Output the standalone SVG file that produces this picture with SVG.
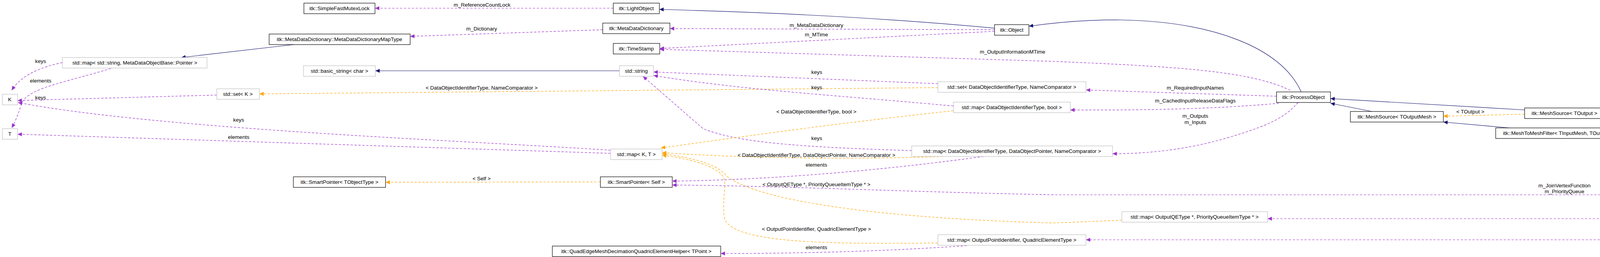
<svg xmlns="http://www.w3.org/2000/svg" width="7019" height="657" viewBox="0 0 7019 657">
<style>
text{font-family:"Liberation Sans",Arial,sans-serif;font-size:13.5px;fill:#000}
.n text{text-anchor:middle}
.n rect{fill:#fff;stroke:#000;stroke-width:1.2}
.n.g rect{stroke:#bfbfbf}
.n.main rect{fill:#bfbfbf}
.e path{fill:none;stroke-width:1.2}
.inh{stroke:#191970}
.use{stroke:#9a32cd;stroke-dasharray:6,4}
.tpl{stroke:#ffa500;stroke-dasharray:6,4}
.lbl{text-anchor:middle}
</style>
<defs>
<marker id="an" markerUnits="userSpaceOnUse" markerWidth="12" markerHeight="10" refX="11" refY="5" orient="auto"><path d="M0,0 L11,5 L0,10 z" fill="#191970"/></marker>
<marker id="ap" markerUnits="userSpaceOnUse" markerWidth="12" markerHeight="10" refX="11" refY="5" orient="auto"><path d="M0,0 L11,5 L0,10 z" fill="#9a32cd"/></marker>
<marker id="ao" markerUnits="userSpaceOnUse" markerWidth="12" markerHeight="10" refX="11" refY="5" orient="auto"><path d="M0,0 L11,5 L0,10 z" fill="#ffa500"/></marker>
</defs>
<rect width="7019" height="657" fill="#fff"/>
<g id="connectors" class="e">
<path class="use" marker-end="url(#ap)" d="M1570,21 L960,21"/>
<path class="inh" marker-end="url(#an)" d="M2546,72 C2200,40 1900,30 1688,24"/>
<path class="use" marker-end="url(#ap)" d="M1543,76 L1050,93"/>
<path class="inh" marker-end="url(#an)" d="M752,114 L464,147"/>
<path class="use" marker-end="url(#ap)" d="M160,160 C110,170 55,190 30,231"/>
<path class="use" marker-end="url(#ap)" d="M284,175 C170,210 70,225 55,265 Q45,300 30,327"/>
<path class="use" marker-end="url(#ap)" d="M555,243 L45,257"/>
<path class="use" marker-end="url(#ap)" d="M1563,384 C1200,360 400,330 46,262"/>
<path class="use" marker-end="url(#ap)" d="M1563,392 L45,343"/>
<path class="tpl" marker-end="url(#ao)" d="M2401,224 L664,240"/>
<path class="use" marker-end="url(#ap)" d="M2546,76 L1715,73"/>
<path class="use" marker-end="url(#ap)" d="M2546,80 L1689,124"/>
<path class="use" marker-end="url(#ap)" d="M3303,231 C3200,180 3000,170 2700,157 L1689,126"/>
<path class="inh" marker-end="url(#an)" d="M1586,181 L961,181"/>
<path class="use" marker-end="url(#ap)" d="M2401,214 L1673,184"/>
<path class="use" marker-end="url(#ap)" d="M2441,271 C2100,240 1900,230 1673,193"/>
<path class="use" marker-end="url(#ap)" d="M2334,385 C2000,375 1880,360 1800,329 L1646,195"/>
<path class="tpl" marker-end="url(#ao)" d="M2441,283 C2100,320 1900,350 1692,378"/>
<path class="tpl" marker-end="url(#ao)" d="M2414,400 C2200,408 1900,405 1695,390"/>
<path class="tpl" marker-end="url(#ao)" d="M2872,563 L2700,570 C2300,560 1950,520 1860,450 Q1830,410 1695,393"/>
<path class="tpl" marker-end="url(#ao)" d="M2401,621 C2100,625 1880,620 1855,560 C1845,500 1870,460 1840,440 Q1800,410 1695,397"/>
<path class="use" marker-end="url(#ap)" d="M2518,400 C2300,430 2000,460 1721,463"/>
<path class="use" marker-end="url(#ap)" d="M6077,515 C5800,500 5600,498 5400,498 L2700,498 C2300,490 2000,475 1721,473"/>
<path class="tpl" marker-end="url(#ao)" d="M1537,465 L987,466"/>
<path class="use" marker-end="url(#ap)" d="M2475,628 C2300,640 2100,648 1845,648"/>
<path class="inh" marker-end="url(#an)" d="M3331,235 C3280,120 3100,55 2870,51 C2780,50 2700,58 2634,67"/>
<path class="use" marker-end="url(#ap)" d="M3268,246 L2780,230"/>
<path class="use" marker-end="url(#ap)" d="M3274,264 C3100,280 2900,282 2740,281"/>
<path class="use" marker-end="url(#ap)" d="M3323,262 C3290,300 3250,320 3150,350 C3050,380 2950,393 2848,393"/>
<path class="inh" marker-end="url(#an)" d="M3512,285 L3406,264"/>
<path class="inh" marker-end="url(#an)" d="M3903,281 L3406,252"/>
<path class="tpl" marker-end="url(#ao)" d="M3903,292 L3695,297"/>
<path class="inh" marker-end="url(#an)" d="M3864,327 L3695,312"/>
<path class="inh" marker-end="url(#an)" d="M4463,322 L4108,297"/>
<path class="tpl" marker-end="url(#ao)" d="M4463,333 L4182,338"/>
<path class="inh" marker-end="url(#an)" d="M4409,369 L4182,354"/>
<path class="inh" marker-end="url(#an)" d="M5097,369 L4747,342"/>
<path class="tpl" marker-end="url(#ao)" d="M5029,382 L4847,382"/>
<path class="inh" marker-end="url(#an)" d="M5601,424 L5361,397"/>
<path class="inh" marker-end="url(#an)" d="M6158,516 L5808,451"/>
<path class="inh" marker-end="url(#an)" d="M6633,570 L6364,542"/>
<path class="use" marker-end="url(#ap)" d="M6083,542 C5900,555 5700,559 5400,559 L3245,559"/>
<path class="use" marker-end="url(#ap)" d="M6605,597 C6400,610 6200,613 5900,613 L2780,613"/>
<g class="lbl">
<text x="1234" y="17">m_ReferenceCountLock</text>
<text x="1233" y="78">m_Dictionary</text>
<text x="104" y="161">keys</text>
<text x="104" y="211">elements</text>
<text x="104" y="254">keys</text>
<text x="611" y="311">keys</text>
<text x="611" y="355">elements</text>
<text x="1233" y="229">&lt; DataObjectIdentifierType, NameComparator &gt;</text>
<text x="2090" y="69">m_MetaDataDictionary</text>
<text x="2090" y="93">m_MTime</text>
<text x="2592" y="137">m_OutputInformationMTime</text>
<text x="2091" y="189">keys</text>
<text x="2091" y="228">keys</text>
<text x="2091" y="358">keys</text>
<text x="2090" y="290">&lt; DataObjectIdentifierType, bool &gt;</text>
<text x="2090" y="401">&lt; DataObjectIdentifierType, DataObjectPointer, NameComparator &gt;</text>
<text x="2090" y="426">elements</text>
<text x="2090" y="476">&lt; OutputQEType *, PriorityQueueItemType * &gt;</text>
<text x="2090" y="590">&lt; OutputPointIdentifier, QuadricElementType &gt;</text>
<text x="2090" y="637">elements</text>
<text x="1233" y="461">&lt; Self &gt;</text>
<text x="3060" y="229">m_RequiredInputNames</text>
<text x="3060" y="262">m_CachedInputReleaseDataFlags</text>
<text x="3060" y="301">m_Outputs</text>
<text x="3060" y="317">m_Inputs</text>
<text x="3764" y="290">&lt; TOutput &gt;</text>
<text x="4272" y="331">&lt; TInput, TOutput &gt;</text>
<text x="4939" y="378">&lt; TInput, TOutput &gt;</text>
<text x="4005" y="479">m_JoinVertexFunction</text>
<text x="4005" y="494">m_PriorityQueue</text>
<text x="4275" y="555">m_QueueMapper</text>
<text x="4607" y="609">m_Quadric</text>
</g>
</g>
<g id="n_mutex" class="n"><rect x="778" y="8" width="182" height="27"/><text x="869" y="26">itk::SimpleFastMutexLock</text></g>
<g id="n_mddmap" class="n"><rect x="689" y="87" width="361" height="27"/><text x="869" y="105">itk::MetaDataDictionary::MetaDataDictionaryMapType</text></g>
<g id="n_mapstr" class="n g"><rect x="160" y="147" width="370" height="27"/><text x="345" y="165">std::map&lt; std::string, MetaDataObjectBase::Pointer &gt;</text></g>
<g id="n_basic" class="n g"><rect x="777" y="168" width="184" height="27"/><text x="869" y="186">std::basic_string&lt; char &gt;</text></g>
<g id="n_setk" class="n g"><rect x="555" y="227" width="109" height="27"/><text x="609" y="245">std::set&lt; K &gt;</text></g>
<g id="n_k" class="n g"><rect x="6" y="241" width="39" height="27"/><text x="25" y="259">K</text></g>
<g id="n_t" class="n g"><rect x="6" y="329" width="39" height="27"/><text x="25" y="347">T</text></g>
<g id="n_sptobj" class="n"><rect x="751" y="452" width="236" height="27"/><text x="869" y="470">itk::SmartPointer&lt; TObjectType &gt;</text></g>
<g id="n_light" class="n"><rect x="1570" y="8" width="118" height="27"/><text x="1629" y="26">itk::LightObject</text></g>
<g id="n_mdd" class="n"><rect x="1543" y="59" width="172" height="27"/><text x="1629" y="77">itk::MetaDataDictionary</text></g>
<g id="n_ts" class="n"><rect x="1570" y="111" width="119" height="27"/><text x="1629" y="129">itk::TimeStamp</text></g>
<g id="n_str" class="n g"><rect x="1586" y="168" width="87" height="27"/><text x="1629" y="186">std::string</text></g>
<g id="n_mapkt" class="n g"><rect x="1563" y="381" width="132" height="27"/><text x="1629" y="399">std::map&lt; K, T &gt;</text></g>
<g id="n_sptself" class="n"><rect x="1537" y="452" width="184" height="27"/><text x="1629" y="470">itk::SmartPointer&lt; Self &gt;</text></g>
<g id="n_helper" class="n"><rect x="1414" y="629" width="431" height="27"/><text x="1629" y="647">itk::QuadEdgeMeshDecimationQuadricElementHelper&lt; TPoint &gt;</text></g>
<g id="n_object" class="n"><rect x="2546" y="63" width="88" height="27"/><text x="2590" y="81">itk::Object</text></g>
<g id="n_setdoi" class="n g"><rect x="2401" y="209" width="379" height="27"/><text x="2590" y="227">std::set&lt; DataObjectIdentifierType, NameComparator &gt;</text></g>
<g id="n_mapbool" class="n g"><rect x="2441" y="261" width="299" height="27"/><text x="2590" y="279">std::map&lt; DataObjectIdentifierType, bool &gt;</text></g>
<g id="n_mapdop" class="n g"><rect x="2334" y="373" width="514" height="27"/><text x="2591" y="391">std::map&lt; DataObjectIdentifierType, DataObjectPointer, NameComparator &gt;</text></g>
<g id="n_mapopi" class="n g"><rect x="2401" y="600" width="379" height="27"/><text x="2590" y="618">std::map&lt; OutputPointIdentifier, QuadricElementType &gt;</text></g>
<g id="n_mapqe" class="n g"><rect x="2872" y="541" width="373" height="27"/><text x="3058" y="559">std::map&lt; OutputQEType *, PriorityQueueItemType * &gt;</text></g>
<g id="n_po" class="n"><rect x="3268" y="235" width="138" height="27"/><text x="3337" y="253">itk::ProcessObject</text></g>
<g id="n_msom" class="n"><rect x="3457" y="285" width="238" height="27"/><text x="3576" y="303">itk::MeshSource&lt; TOutputMesh &gt;</text></g>
<g id="n_mso" class="n"><rect x="3903" y="276" width="205" height="27"/><text x="4005" y="294">itk::MeshSource&lt; TOutput &gt;</text></g>
<g id="n_mtmm" class="n"><rect x="3829" y="327" width="353" height="27"/><text x="4005" y="345">itk::MeshToMeshFilter&lt; TInputMesh, TOutputMesh &gt;</text></g>
<g id="n_mtm" class="n"><rect x="4463" y="318" width="284" height="27"/><text x="4605" y="336">itk::MeshToMeshFilter&lt; TInput, TOutput &gt;</text></g>
<g id="n_qqm" class="n"><rect x="4363" y="369" width="484" height="27"/><text x="4605" y="387">itk::QuadEdgeMeshToQuadEdgeMeshFilter&lt; TInputMesh, TOutputMesh &gt;</text></g>
<g id="n_qq" class="n"><rect x="5029" y="369" width="416" height="27"/><text x="5237" y="387">itk::QuadEdgeMeshToQuadEdgeMeshFilter&lt; TInput, TOutput &gt;</text></g>
<g id="n_dec" class="n"><rect x="5496" y="424" width="445" height="27"/><text x="5718" y="442">itk::DecimationQuadEdgeMeshFilter&lt; TInput, TOutput, TCriterion &gt;</text></g>
<g id="n_edec" class="n"><rect x="5992" y="516" width="476" height="27"/><text x="6230" y="534">itk::EdgeDecimationQuadEdgeMeshFilter&lt; TInput, TOutput, TCriterion &gt;</text></g>
<g id="n_qdec" class="n main"><rect x="6520" y="570" width="493" height="27"/><text x="6766" y="588">itk::QuadricDecimationQuadEdgeMeshFilter&lt; TInput, TOutput, TCriterion &gt;</text></g>
</svg>
